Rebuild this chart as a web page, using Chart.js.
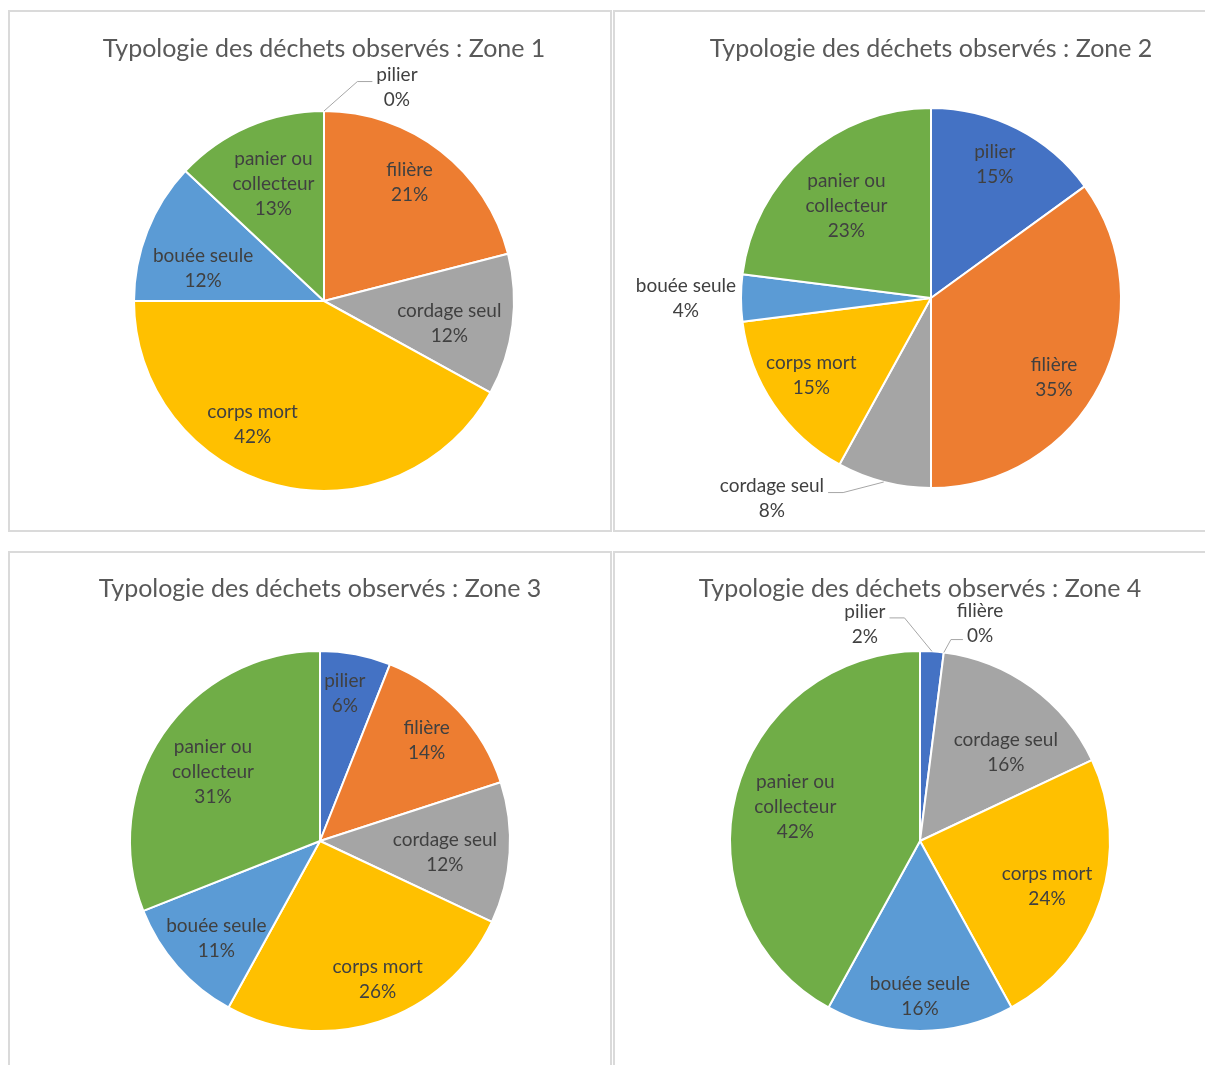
<!DOCTYPE html>
<html>
<head>
<meta charset="utf-8">
<script src="https://cdn.jsdelivr.net/npm/chart.js@4.4.1/dist/chart.umd.min.js"></script>
<style>
  html, body { margin: 0; padding: 0; background: #fff; overflow: hidden; }
  body { width: 1205px; height: 1065px; position: relative; }
  .panel { position: absolute; box-sizing: border-box; border: 2px solid #dadada; background: #fff; overflow: hidden; }
  canvas { display: block; }
</style>
</head>
<body>
<div class="panel" style="left:8px;top:10px;width:604px;height:522px;"><canvas id="zone1" width="600" height="518"></canvas></div>
<div class="panel" style="left:613px;top:10px;width:604px;height:522px;"><canvas id="zone2" width="600" height="518"></canvas></div>
<div class="panel" style="left:8px;top:551px;width:604px;height:530px;"><canvas id="zone3" width="600" height="526"></canvas></div>
<div class="panel" style="left:613px;top:551px;width:604px;height:530px;"><canvas id="zone4" width="600" height="526"></canvas></div>

<script>
// categories, clockwise from 12 o'clock
var categories = ["pilier", "filière", "cordage seul", "corps mort", "bouée seule", "panier ou collecteur"];

// % per zone
var zone1 = [0, 21, 12, 42, 12, 13];
var zone2 = [15, 35, 8, 15, 4, 23];
var zone3 = [6, 14, 12, 26, 11, 31];
var zone4 = [2, 0, 16, 24, 16, 42];

var titles = [
    "Typologie des déchets observés : Zone 1",
    "Typologie des déchets observés : Zone 2",
    "Typologie des déchets observés : Zone 3",
    "Typologie des déchets observés : Zone 4"
];

var colors = ["#4472C4", "#ED7D31", "#A5A5A5", "#FFC000", "#5B9BD5", "#70AD47"];

// split long names over two lines like Excel does
function wrapLabel(text) {
    var words = text.split(" ");
    var lines = [];
    var cur = "";
    words.forEach(function (w) {
        var next = cur ? cur + " " + w : w;
        if (next.length > 12 && cur) {
            lines.push(cur);
            cur = w;
        } else {
            cur = next;
        }
    });
    lines.push(cur);
    return lines;
}

// draws the data labels (name + %) and leader lines for the outside ones
var sliceLabels = {
    id: "sliceLabels",
    afterDatasetsDraw: function (chart, args, opts) {
        var ctx = chart.ctx;
        var meta = chart.getDatasetMeta(0);
        var values = chart.data.datasets[0].data;
        var lh = 25;
        ctx.save();
        ctx.font = "19px Lato";
        ctx.fillStyle = "#404040";
        ctx.textAlign = "center";
        ctx.textBaseline = "middle";
        meta.data.forEach(function (arc, i) {
            var p = arc.getProps(["x", "y", "startAngle", "endAngle", "outerRadius"], true);
            var mid = (p.startAngle + p.endAngle) / 2;
            var lines = wrapLabel(chart.data.labels[i]).concat(values[i] + "%");
            var out = opts.outside[i];
            var cx, cy;
            if (out) {
                cx = p.x + out.dx * p.outerRadius;
                cy = p.y + out.dy * p.outerRadius;
            } else {
                var f = opts.dist[i];
                var a = mid + (opts.shift[i] || 0) * Math.PI / 180;
                cx = p.x + Math.cos(a) * f * p.outerRadius;
                cy = p.y + Math.sin(a) * f * p.outerRadius;
            }
            var top = cy - (lines.length - 1) * lh / 2;
            lines.forEach(function (t, k) {
                ctx.fillText(t, cx, top + k * lh);
            });
            if (out && out.leader) {
                var w = ctx.measureText(lines[out.line]).width;
                var ex = p.x + Math.cos(mid) * p.outerRadius;
                var ey = p.y + Math.sin(mid) * p.outerRadius;
                var side = cx > ex ? -1 : 1;
                var ax = cx + side * (w / 2 + 4);
                var ay = top + out.line * lh + out.ly;
                ctx.beginPath();
                ctx.strokeStyle = "#a6a6a6";
                ctx.lineWidth = 1;
                ctx.moveTo(ax, ay);
                ctx.lineTo(ax + side * out.elbow, ay);
                ctx.lineTo(ex, ey);
                ctx.stroke();
            }
        });
        ctx.restore();
    }
};

function makePie(id, title, values, pad, titleTop, labelOpts) {
    var ctx = document.getElementById(id).getContext("2d");
    return new Chart(ctx, {
        type: "pie",
        data: {
            labels: categories,
            datasets: [{
                data: values,
                backgroundColor: colors,
                borderColor: "#ffffff",
                borderWidth: 2,
                radius: 190
            }]
        },
        options: {
            responsive: false,
            animation: false,
            layout: { padding: pad },
            plugins: {
                legend: { display: false },
                tooltip: { enabled: false },
                title: {
                    display: true,
                    text: title,
                    color: "#595959",
                    font: { family: "Lato", size: 25, weight: "normal" },
                    padding: { top: titleTop, bottom: 9 }
                },
                sliceLabels: labelOpts
            }
        },
        plugins: [sliceLabels]
    });
}

makePie("zone1", titles[0], zone1, { left: 28, right: 0, top: 0, bottom: 1 }, 22, {
    dist: [0, 0.77, 0.67, 0.75, 0.66, 0.67],
    shift: [0, -2, 3, 15.7, -6.3, 0],
    outside: { 0: { dx: 0.384, dy: -1.126, leader: true, line: 0, ly: 7, elbow: 15 } }
});

makePie("zone2", titles[1], zone2, { left: 32, right: 0, top: 0, bottom: 7 }, 22, {
    dist: [0.78, 0.77, 0, 0.75, 0, 0.66],
    shift: [-1.5, 5.8, 0, 1.3, 0, -1],
    outside: {
        2: { dx: -0.837, dy: 1.053, leader: true, line: 0, ly: 7, elbow: 15 },
        4: { dx: -1.29, dy: 0, leader: false }
    }
});

makePie("zone3", titles[2], zone3, { left: 20, right: 0, top: 0, bottom: 10 }, 21, {
    dist: [0.79, 0.77, 0.66, 0.79, 0.75, 0.67],
    shift: [-1.3, 0, 1.4, -4.6, -1.9, -1.4],
    outside: {}
});

makePie("zone4", titles[3], zone4, { left: 10, right: 0, top: 0, bottom: 10 }, 21, {
    dist: [0, 0, 0.65, 0.71, 0.82, 0.68],
    shift: [0, 0, 8, 1.7, 0, 0.8],
    outside: {
        0: { dx: -0.29, dy: -1.14, leader: true, line: 0, ly: 6, elbow: 15 },
        1: { dx: 0.316, dy: -1.147, leader: true, line: 1, ly: 4, elbow: 12 }
    }
});
</script>
</body>
</html>
